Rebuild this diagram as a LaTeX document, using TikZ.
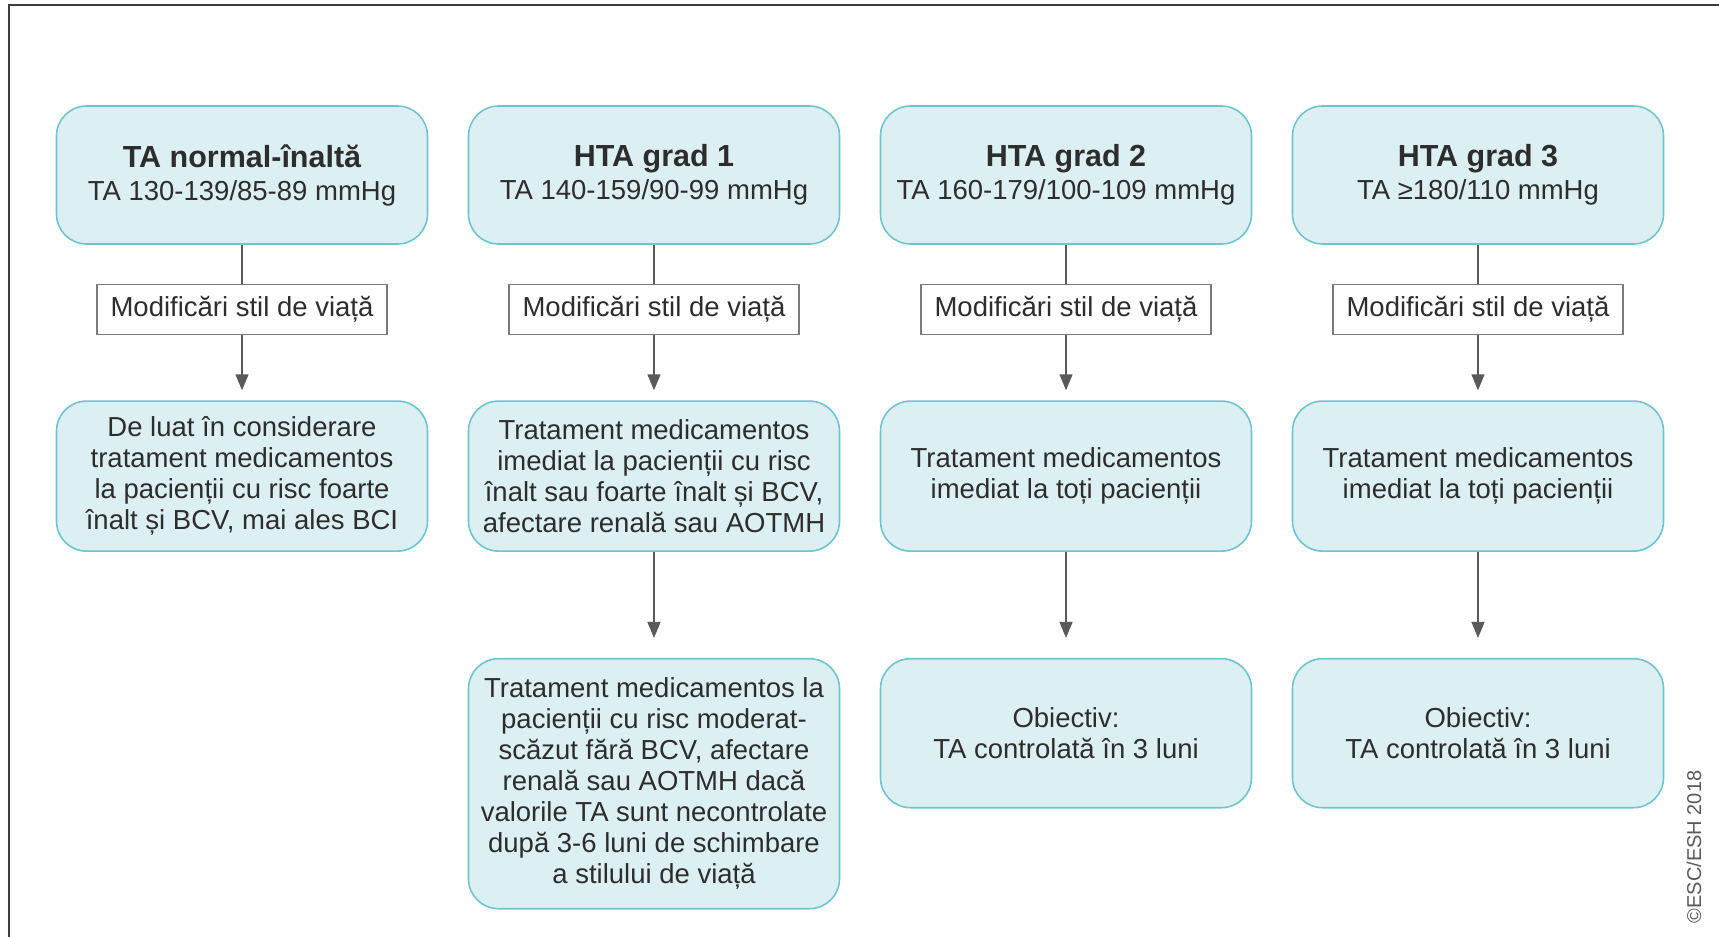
\documentclass[tikz,border=0pt]{standalone}
\definecolor{boxteal}{RGB}{112, 196, 206}
\definecolor{boxfill}{RGB}{220, 240, 243}
\definecolor{textgray}{RGB}{45, 45, 45}
\definecolor{linegray}{RGB}{90, 90, 90}
\definecolor{framegray}{RGB}{60, 60, 72}
\usepackage{fontspec}
\setmainfont{Liberation Sans}
\usepackage{tikz}
\usetikzlibrary{arrows.meta, positioning}

\begin{document}
\begin{tikzpicture}[x=1pt, y=1pt,
  stagebox/.style={draw=boxteal, fill=boxfill, line width=1.6pt, rounded corners=30pt, minimum width=371pt, align=center, text=textgray, inner sep=6pt, font=\fontsize{27.5}{31}\selectfont},
  lifebox/.style={draw=linegray!80, fill=white, line width=1.5pt, minimum width=290pt, minimum height=50pt, inner sep=4pt, text=textgray, font=\fontsize{27.5}{31}\selectfont},
  link/.style={draw=linegray, line width=1.5pt},
  flow/.style={link, -{Triangle[length=16pt, width=13pt]}}]
  \useasboundingbox (0, 0) rectangle (1719, -937);
  \draw[framegray, line width=2pt] (9, -937) -- (9, -5) -- (1719, -5);

  \node[stagebox, minimum height=138pt] (grade0) at (242, -175) {
    {\fontsize{30.5}{34}\selectfont\bfseries TA normal-înaltă}\\[2pt]
    TA 130-139/85-89 mmHg
  };
  \node[stagebox, minimum height=138pt] (grade1) at (654, -175) {
    {\fontsize{30.5}{34}\selectfont\bfseries HTA grad 1}\\[2pt]
    TA 140-159/90-99 mmHg
  };
  \node[stagebox, minimum height=138pt] (grade2) at (1066, -175) {
    {\fontsize{30.5}{34}\selectfont\bfseries HTA grad 2}\\[2pt]
    TA 160-179/100-109 mmHg
  };
  \node[stagebox, minimum height=138pt] (grade3) at (1478, -175) {
    {\fontsize{30.5}{34}\selectfont\bfseries HTA grad 3}\\[2pt]
    TA ≥180/110 mmHg
  };

  \node[lifebox, below=39pt of grade0] (life0) {Modificări stil de viață};
  \node[lifebox, below=39pt of grade1] (life1) {Modificări stil de viață};
  \node[lifebox, below=39pt of grade2] (life2) {Modificări stil de viață};
  \node[lifebox, below=39pt of grade3] (life3) {Modificări stil de viață};

  \node[stagebox, minimum height=150pt, below=65pt of life0] (drug0) {
    De luat în considerare\\
    tratament medicamentos\\
    la pacienții cu risc foarte\\
    înalt și BCV, mai ales BCI
  };
  \node[stagebox, minimum height=150pt, below=65pt of life1] (drug1) {
    Tratament medicamentos\\
    imediat la pacienții cu risc\\
    înalt sau foarte înalt și BCV,\\
    afectare renală sau AOTMH
  };
  \node[stagebox, minimum height=150pt, below=65pt of life2] (drug2) {
    Tratament medicamentos\\
    imediat la toți pacienții
  };
  \node[stagebox, minimum height=150pt, below=65pt of life3] (drug3) {
    Tratament medicamentos\\
    imediat la toți pacienții
  };

  \node[stagebox, minimum height=250pt, below=106pt of drug1] (late1) {
    Tratament medicamentos la\\
    pacienții cu risc moderat-\\
    scăzut fără BCV, afectare\\
    renală sau AOTMH dacă\\
    valorile TA sunt necontrolate\\
    după 3-6 luni de schimbare\\
    a stilului de viață
  };
  \node[stagebox, minimum height=149pt, below=106pt of drug2] (goal2) {
    Obiectiv:\\
    TA controlată în 3 luni
  };
  \node[stagebox, minimum height=149pt, below=106pt of drug3] (goal3) {
    Obiectiv:\\
    TA controlată în 3 luni
  };

  \draw[link] (grade0) -- (life0);
  \draw[link] (grade1) -- (life1);
  \draw[link] (grade2) -- (life2);
  \draw[link] (grade3) -- (life3);
  \draw[flow, shorten >=10pt] (life0) -- (drug0);
  \draw[flow, shorten >=10pt] (life1) -- (drug1);
  \draw[flow, shorten >=10pt] (life2) -- (drug2);
  \draw[flow, shorten >=10pt] (life3) -- (drug3);
  \draw[flow, shorten >=20pt] (drug1) -- (late1);
  \draw[flow, shorten >=20pt] (drug2) -- (goal2);
  \draw[flow, shorten >=20pt] (drug3) -- (goal3);

  \node[rotate=90, text=black!65, font=\fontsize{20}{24}\selectfont] (copyright) at (1694, -847) {©ESC/ESH 2018};
\end{tikzpicture}
\end{document}
